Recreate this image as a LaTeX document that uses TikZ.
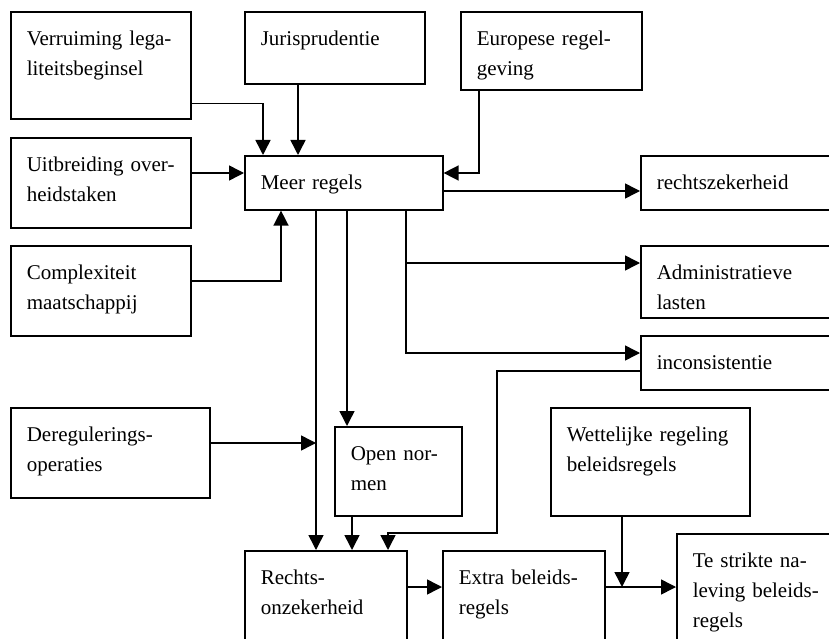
\documentclass[tikz,border=0pt]{standalone}
\usepackage{fontspec}
\setmainfont{Liberation Serif}
\usetikzlibrary{arrows.meta}

\begin{document}
\begin{tikzpicture}[
	         x                = 1pt,
	         y                = -1pt,
             box/.style       = {draw, line width = 1.6pt, anchor = north west, align = left,
                                 inner xsep = 16pt, inner ysep = 0pt, text height = 34pt,
                                 font = \fontsize{21pt}{30pt}\selectfont},
             arr/.style       = {line width = 1.5pt, -{Triangle[length = 15pt, width = 15pt]}}]
             \clip (0,0) rectangle (829,639);
             \node [box, text width = 148pt, text depth = 73pt] (verr)   at (10,11)
                   {Verruiming~lega-\\liteitsbeginsel};
             \node [box, text width = 148pt, text depth = 38pt] (juris)  at (244,11)
                   {Jurisprudentie};
             \node [box, text width = 149pt, text depth = 44pt] (europ)  at (460,11)
                   {Europese~regel-\\geving};
             \node [box, text width = 148pt, text depth = 56pt] (uitb)   at (10,137)
                   {Uitbreiding~over-\\heidstaken};
             \node [box, text width = 166pt, text depth = 20pt] (meer)   at (244,155)
                   {Meer~regels};
             \node [box, text width = 148pt, text depth = 56pt] (compl)  at (10,245)
                   {Complexiteit\\maatschappij};
             \node [box, text width = 168pt, text depth = 20pt] (rzek)   at (640,155)
                   {rechtszekerheid};
             \node [box, text width = 168pt, text depth = 38pt] (admin)  at (640,245)
                   {Administratieve\\lasten};
             \node [box, text width = 168pt, text depth = 20pt] (incon)  at (640,335)
                   {inconsistentie};
             \node [box, text width = 167pt, text depth = 56pt] (dereg)  at (10,407)
                   {Deregulerings-\\operaties};
             \node [box, text width = 95pt,  text depth = 55pt] (open)   at (334,426)
                   {Open~nor-\\men};
             \node [box, text width = 167pt, text depth = 74pt] (wett)   at (550,407)
                   {Wettelijke~regeling\\beleidsregels};
             \node [box, text width = 130pt, text depth = 66pt] (ronz)   at (244,550)
                   {Rechts-\\onzekerheid};
             \node [box, text width = 130pt, text depth = 66pt] (extra)  at (442,550)
                   {Extra~beleids-\\regels};
             \node [box, text width = 168pt, text depth = 86pt] (strikt) at (676,533)
                   {Te~strikte~na-\\leving~beleids-\\regels};
             \coordinate (m1) at ([xshift = 72pt]meer.south west);
             \coordinate (m2) at ([xshift = 103pt]meer.south west);
             \coordinate (m3) at ([xshift = 162pt]meer.south west);
             \coordinate (a1) at ([yshift = -18pt]admin.north west);
             \coordinate (d1) at ([yshift = -36pt]dereg.north east);
             \coordinate (e1) at ([yshift = -37pt]extra.north east);
             \coordinate (w1) at ([xshift = 72pt]wett.south west);
             \draw [arr] ([yshift = 16pt]verr.south east) -| ([xshift = 19pt]meer.north west);
             \draw [arr] ([xshift = 54pt]juris.south west) -- ([xshift = 54pt]meer.north west);
             \draw [arr] ([xshift = 19pt]europ.south west) |- ([yshift = -18pt]meer.north east);
             \draw [arr] ([yshift = -36pt]uitb.north east) -- ([yshift = -18pt]meer.north west);
             \draw [arr] ([yshift = -36pt]compl.north east) -| ([xshift = 37pt]meer.south west);
             \draw [arr] ([yshift = -36pt]meer.north east) -- ([yshift = -36pt]rzek.north west);
             \draw [arr] (m1) -- ([xshift = 72pt]ronz.north west);
             \draw [arr] (m2) -- (m2 |- open.north);
             \draw [arr] (m3) |- ([yshift = -18pt]incon.north west);
             \draw [arr] (a1 -| m3) -- (a1);
             \draw [arr] ([yshift = -36pt]incon.north west) -- ++(-143,0) -- ++(0,162)
                    -| ([xshift = 144pt]ronz.north west);
             \draw [arr] (d1) -- (d1 -| m1);
             \draw [arr] ([xshift = 18pt]open.south west) -- ([xshift = 108pt]ronz.north west);
             \draw [arr] ([yshift = -37pt]ronz.north east) -- ([yshift = -37pt]extra.north west);
             \draw [arr] (e1) -- (e1 -| strikt.west);
             \draw [arr] (w1) -- (w1 |- e1);
    \end{tikzpicture}
\end{document}
